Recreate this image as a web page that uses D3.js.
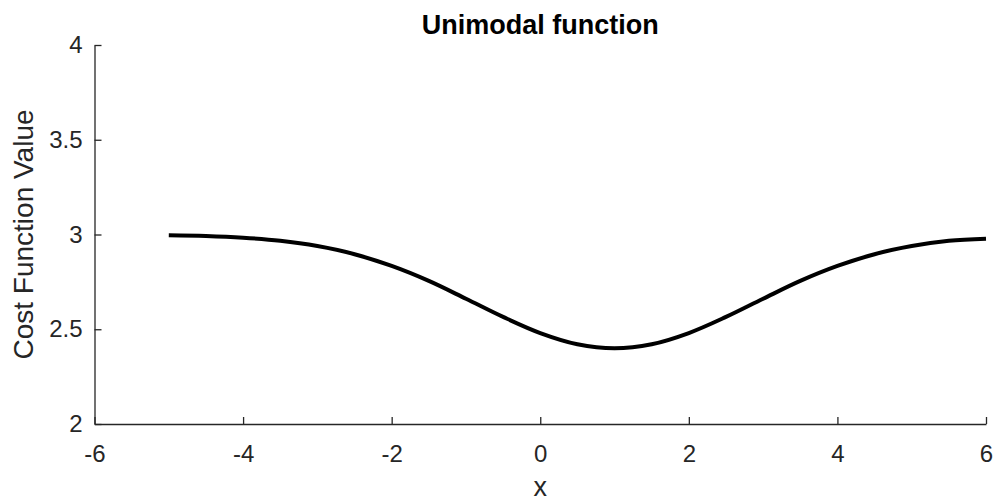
<!DOCTYPE html>
<html>
<head>
<meta charset="utf-8">
<script src="https://cdn.jsdelivr.net/npm/d3@7"></script>
<style>
  body { margin: 0; background: #fff; }
  text { font-family: "Liberation Sans", Arial, Helvetica, sans-serif; }
</style>
</head>
<body>
<div id="chart"></div>
<script>
// values
const xs = [-5, -4.5, -4, -3.5, -3, -2.5, -2, -1.5, -1, -0.5, 0, 0.5, 1, 1.5, 2, 2.5, 3, 3.5, 4, 4.5, 5, 5.5, 6];
const costs = [2.996, 2.992, 2.983, 2.967, 2.939, 2.896, 2.834, 2.755, 2.661, 2.565, 2.480, 2.421, 2.400,
  2.421, 2.480, 2.565, 2.661, 2.755, 2.834, 2.896, 2.939, 2.967, 2.978];
const xTicks = [-6, -4, -2, 0, 2, 4, 6];
const yTicks = [2, 2.5, 3, 3.5, 4];

const width = 994, height = 502;
const margin = {top: 45, right: 8, bottom: 78, left: 94.5};
const axisColor = '#262626';

const svg = d3.select('#chart').append('svg')
  .attr('width', width).attr('height', height);

const xScale = d3.scaleLinear().domain([-6, 6]).range([margin.left, width - margin.right]);
const yScale = d3.scaleLinear().domain([2, 4]).range([height - margin.bottom, margin.top]);

// plain hyphen for negatives, like the original
const fmt = d => String(d);

const xAxisG = svg.append('g')
  .attr('transform', `translate(0,${height - margin.bottom})`)
  .call(d3.axisBottom(xScale).tickValues(xTicks).tickFormat(fmt).tickSizeInner(-7).tickSizeOuter(0).tickPadding(21));
const yAxisG = svg.append('g')
  .attr('transform', `translate(${margin.left},0)`)
  .call(d3.axisLeft(yScale).tickValues(yTicks).tickFormat(fmt).tickSizeInner(-7).tickSizeOuter(0).tickPadding(12));

[xAxisG, yAxisG].forEach(g => {
  g.select('.domain').attr('stroke', axisColor).attr('stroke-width', 1.3);
  g.selectAll('.tick line').attr('stroke', axisColor).attr('stroke-width', 1.3);
  g.selectAll('.tick text').attr('fill', axisColor).style('font-size', '24px');
});

const data = xs.map((x, i) => ({x: x, y: costs[i]}));
const line = d3.line()
  .x(d => xScale(d.x))
  .y(d => yScale(d.y))
  .curve(d3.curveCatmullRom);

svg.append('path')
  .datum(data)
  .attr('fill', 'none')
  .attr('stroke', '#000')
  .attr('stroke-width', 4)
  .attr('d', line);

svg.append('text')
  .attr('x', xScale(0)).attr('y', 34)
  .attr('text-anchor', 'middle')
  .style('font-size', '27px').style('font-weight', 'bold')
  .attr('fill', '#000')
  .text('Unimodal function');

svg.append('text')
  .attr('x', xScale(0)).attr('y', 496)
  .attr('text-anchor', 'middle')
  .style('font-size', '27px')
  .attr('fill', axisColor)
  .text('x');

svg.append('text')
  .attr('transform', `translate(33,${yScale(3)}) rotate(-90)`)
  .attr('text-anchor', 'middle')
  .style('font-size', '28px')
  .attr('fill', axisColor)
  .text('Cost Function Value');
</script>
</body>
</html>
